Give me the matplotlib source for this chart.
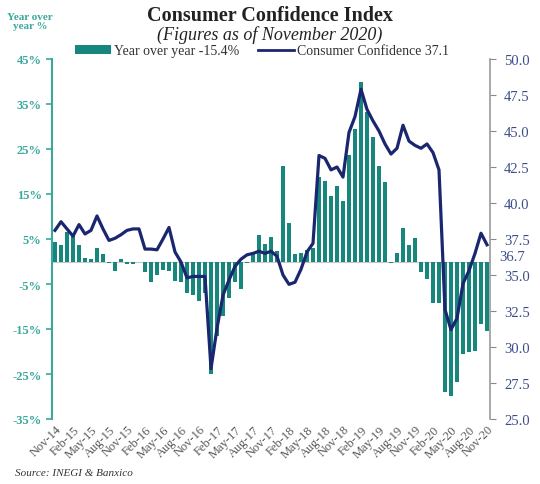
import matplotlib
matplotlib.use("Agg")
import matplotlib.pyplot as plt
import matplotlib.transforms as mtransforms
from matplotlib.patches import Patch
from matplotlib.lines import Line2D
import numpy as np
import pandas as pd

# ---------------- data ----------------
months = pd.date_range("2014-11-01", "2020-11-01", freq="MS").strftime("%b-%y").tolist()

yoy_pct = [4.3, 3.7, 6.5, 5.7, 3.7, 0.7, 0.6, 3.1, 1.7, -0.3,
           -2.0, 0.5, -0.5, -0.5, -0.2, -2.3, -4.5, -3.1, -1.8, -2.0,
           -4.3, -4.6, -6.9, -7.4, -8.7, -7.0, -25.0, -16.5, -12.0, -8.0,
           -4.6, -6.1, -0.3, 2.0, 6.0, 3.9, 5.4, 2.4, 21.3, 8.6,
           1.7, 2.0, 2.6, 3.0, 18.7, 17.8, 14.6, 16.7, 13.5, 23.7,
           29.4, 40.0, 33.2, 27.6, 21.2, 17.6, -0.3, 1.9, 7.4, 3.7,
           5.2, -2.4, -3.9, -9.3, -9.3, -29.1, -29.8, -26.8, -20.6, -20.0,
           -19.8, -13.9, -15.4]

confidence = [38.1, 38.7, 38.2, 37.7, 38.5, 37.85, 38.1, 39.1, 38.2, 37.4,
              37.55, 37.8, 38.1, 38.2, 38.2, 36.8, 36.8, 36.75, 37.5, 38.3,
              36.6, 35.9, 34.8, 34.9, 34.9, 34.9, 28.5, 31.3, 33.6, 34.65,
              35.6, 36.1, 36.4, 36.5, 36.65, 36.5, 36.65, 36.3, 35.0, 34.35,
              34.5, 35.4, 36.6, 37.2, 43.3, 43.1, 42.3, 42.5, 41.8, 44.9,
              46.0, 47.9, 46.5, 45.7, 45.0, 44.1, 43.4, 43.8, 45.4, 44.3,
              44.0, 43.8, 44.1, 43.5, 42.3, 32.6, 31.2, 32.0, 34.4, 35.3,
              36.5, 37.9, 37.1]

left_ticks = [45, 35, 25, 15, 5, -5, -15, -25, -35]
left_tick_labels = ["45%", "35%", "25%", "15%", "5%", "-5%", "-15%", "-25%", "-35%"]
right_ticks = [25.0, 27.5, 30.0, 32.5, 35.0, 37.5, 40.0, 42.5, 45.0, 47.5, 50.0]
latest_prev_label = "36.7"

bar_label = "Year over year -15.4%"
line_label = "Consumer Confidence 37.1"

# ---------------- style ----------------
TEAL = "#17877d"
TEAL_AX = "#3aa89c"
NAVY = "#1b2670"
RIGHT_TXT = "#3c4d8a"
SERIF = ["Liberation Serif", "DejaVu Serif"]
plt.rcParams["font.family"] = SERIF

fig = plt.figure(figsize=(5.4, 4.85), dpi=100)
ax = fig.add_axes([52/540, 1-420/485, 438/540, 360/485])
ax2 = ax.twinx()

x = np.arange(len(months))
ax.bar(x, yoy_pct, width=0.6, color=TEAL, zorder=2)
ax.axhline(0, color="#c8c8c8", lw=0.8, zorder=1)
ax.set_ylim(-35, 45)
ax.set_xlim(-0.5, len(months) - 0.5)
ax.set_yticks(left_ticks)
ax.set_yticklabels(left_tick_labels)
ax.tick_params(axis="y", colors=TEAL_AX, labelsize=9, length=4, width=1.2, direction="out")
for lab in ax.get_yticklabels():
    lab.set_fontweight("bold")
ax.set_xticks(x[::3])
ax.set_xticklabels(months[::3], rotation=45, ha="right", rotation_mode="anchor",
                   fontsize=9, color="#555555")
ax.tick_params(axis="x", length=0, pad=3)

ax2.plot(x, confidence, color=NAVY, lw=2.3, zorder=3, solid_joinstyle="round")
ax2.set_ylim(25, 50)
ax2.set_yticks(right_ticks)
ax2.set_yticklabels([f"{t:.1f}" for t in right_ticks])
ax2.tick_params(axis="y", colors="#8a8a8a", labelcolor=RIGHT_TXT, labelsize=10.5, length=4,
                direction="out", pad=6)
ax2.set_xlim(-0.5, len(months) - 0.5)

for a in (ax, ax2):
    a.spines["top"].set_visible(False)
    a.spines["bottom"].set_visible(False)
ax.spines["right"].set_visible(False)
ax.spines["left"].set_color(TEAL_AX)
ax.spines["left"].set_linewidth(1.5)
ax2.spines["left"].set_visible(False)
ax2.spines["right"].set_color("#9a9a9a")
ax2.spines["right"].set_linewidth(1.2)

trans = mtransforms.blended_transform_factory(ax2.transAxes, ax2.transData)
ax2.text(1.022, 36.3, latest_prev_label, transform=trans, color=RIGHT_TXT,
         fontsize=10.5, va="center", ha="left")

# legend
handles = [Patch(facecolor=TEAL, edgecolor="none"),
           Line2D([0], [0], color=NAVY, lw=2)]
leg = fig.legend(handles, [bar_label, line_label], loc="center", ncol=2,
                 bbox_to_anchor=(262/540, 1-52/485), frameon=False, fontsize=10,
                 handlelength=2.6, handleheight=0.6, handletextpad=0.2, columnspacing=1.4)
for t in leg.get_texts():
    t.set_color("#333333")

# titles and notes
fig.text(270/540, 1-16/485, "Consumer Confidence Index", ha="center", va="center",
         fontsize=14.5, fontweight="bold", color="#222222")
fig.text(270/540, 1-35/485, "(Figures as of November 2020)", ha="center", va="center",
         fontsize=13, fontstyle="italic", color="#222222")
fig.text(30/540, 1-22/485, "Year over\nyear %", ha="center", va="center",
         fontsize=8, fontweight="bold", color=TEAL_AX, linespacing=1.1)
fig.text(15/540, 1-474/485, "Source: INEGI & Banxico", ha="left", va="center",
         fontsize=8, fontstyle="italic", color="#333333")

fig.savefig("out.png", dpi=100)
